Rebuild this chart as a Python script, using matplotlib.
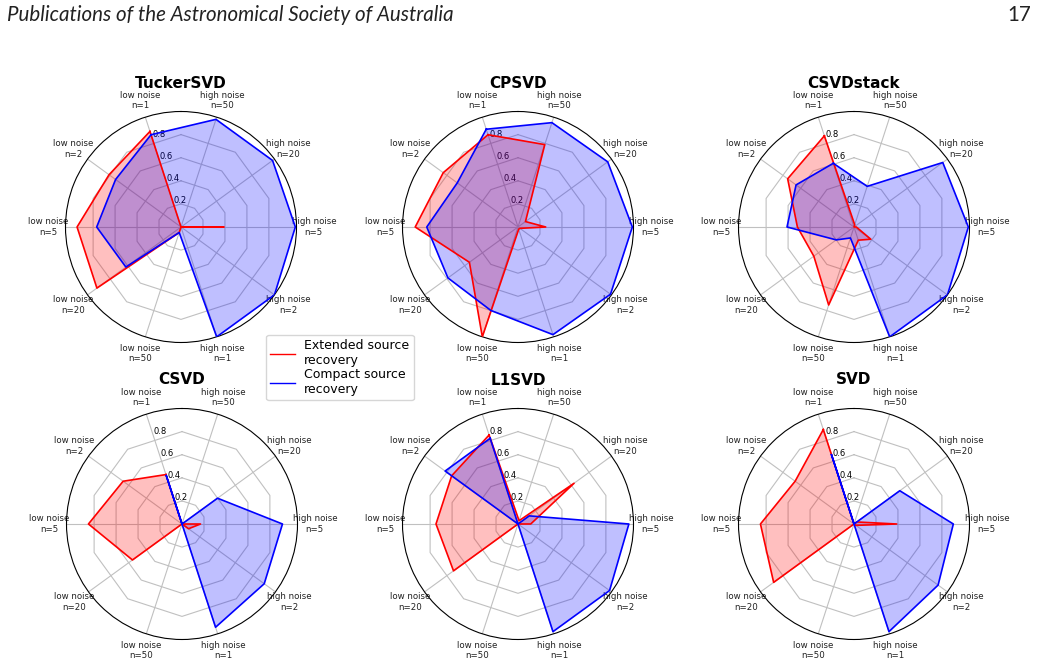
import numpy as np
import matplotlib
matplotlib.use("Agg")
from matplotlib import pyplot as plt
from matplotlib.lines import Line2D

categories = ["low noise\nn=1", "low noise\nn=2", "low noise\nn=5", "low noise\nn=20",
              "low noise\nn=50", "high noise\nn=1", "high noise\nn=2", "high noise\nn=5",
              "high noise\nn=20", "high noise\nn=50"]
methods = ["TuckerSVD", "CPSVD", "CSVDstack", "CSVD", "L1SVD", "SVD"]
rticks = [0.2, 0.4, 0.6, 0.8]

# extended / compact source recovery, same order as categories
tucker_ext = [0.87, 0.77, 0.90, 0.90, 0.05, 0.00, 0.00, 0.37, 0.00, 0.00]
tucker_cmp = [0.84, 0.70, 0.73, 0.59, 0.05, 1.00, 1.00, 0.99, 0.98, 0.98]
cp_ext = [0.84, 0.80, 0.89, 0.52, 1.00, 0.02, 0.02, 0.24, 0.08, 0.75]
cp_cmp = [0.89, 0.65, 0.79, 0.75, 0.76, 0.98, 0.99, 0.99, 0.96, 0.95]
stack_ext = [0.83, 0.71, 0.49, 0.43, 0.71, 0.12, 0.18, 0.02, 0.00, 0.02]
stack_cmp = [0.58, 0.62, 0.58, 0.19, 0.10, 1.00, 1.00, 0.99, 0.95, 0.37]
csvd_ext = [0.45, 0.63, 0.81, 0.53, 0.00, 0.00, 0.07, 0.16, 0.00, 0.00]
csvd_cmp = [0.44, 0.00, 0.00, 0.00, 0.00, 0.94, 0.88, 0.87, 0.38, 0.00]
l1_ext = [0.81, 0.71, 0.71, 0.69, 0.00, 0.00, 0.00, 0.11, 0.60, 0.03]
l1_cmp = [0.78, 0.78, 0.00, 0.00, 0.00, 0.98, 0.98, 0.96, 0.12, 0.00]
svd_ext = [0.86, 0.63, 0.81, 0.86, 0.00, 0.00, 0.02, 0.37, 0.03, 0.00]
svd_cmp = [0.63, 0.00, 0.00, 0.00, 0.00, 0.98, 0.90, 0.86, 0.49, 0.00]

extended = [tucker_ext, cp_ext, stack_ext, csvd_ext, l1_ext, svd_ext]
compact = [tucker_cmp, cp_cmp, stack_cmp, csvd_cmp, l1_cmp, svd_cmp]

W, H = 1038, 664
centers = [(181, 227), (518, 227), (854, 227), (182, 524), (518, 524), (854, 524)]
R = 115.5


def radar(fig, cx, cy, name, ext, cmp):
    ax = fig.add_axes([(cx - R) / W, (H - cy - R) / H, 2 * R / W, 2 * R / H], polar=True)
    ax.set_theta_zero_location("N")
    theta = np.deg2rad(18 + 36 * np.arange(len(categories)))
    th = np.append(theta, theta[0])

    # polygon grid rings
    ring = np.deg2rad(np.arange(0, 361, 36))
    for r in rticks:
        ax.plot(ring, [r] * len(ring), color="#c0c0c0", lw=0.8, zorder=1)

    e = np.append(ext, ext[0])
    c = np.append(cmp, cmp[0])
    ax.fill(th, e, color="red", alpha=0.25, lw=0, zorder=2)
    ax.plot(th, e, color="red", lw=1.2, zorder=3)
    ax.fill(th, c, color="blue", alpha=0.25, lw=0, zorder=2)
    ax.plot(th, c, color="blue", lw=1.2, zorder=3)

    ax.set_ylim(0, 1.0)
    ax.set_rgrids(rticks, labels=[str(r) for r in rticks], fontsize=6)
    ax.set_rlabel_position(18)
    ax.yaxis.grid(False)
    ax.set_xticks(theta)
    ax.set_xticklabels(categories, fontsize=6.2, color="#222222")
    ax.tick_params(axis="x", pad=5.5, length=0)
    ax.xaxis.grid(True, color="#c0c0c0", lw=0.8)
    ax.text(0.5, (R + 144) / (2 * R), name, transform=ax.transAxes, ha="center",
            va="center", fontsize=11, fontweight="bold")
    return ax


fig = plt.figure(figsize=(W / 100, H / 100), dpi=100)
for (cx, cy), name, ext, cmp in zip(centers, methods, extended, compact):
    radar(fig, cx, cy, name, ext, cmp)

handles = [Line2D([], [], color="red", lw=1), Line2D([], [], color="blue", lw=1)]
fig.legend(handles, ["Extended source\nrecovery", "Compact source\nrecovery"],
           loc="upper left", bbox_to_anchor=(266 / W, 1 - 335 / H), fontsize=9,
           handlelength=2.0, borderpad=0.35, labelspacing=0.05, handletextpad=0.7,
           borderaxespad=0)

fig.text(7 / W, 1 - 15 / H, "Publications of the Astronomical Society of Australia",
         family="Lato", style="italic", fontsize=14.8, ha="left", va="center", color="#222222")
fig.text(1031 / W, 1 - 15 / H, "17", family="Lato", fontsize=14.8, ha="right",
         va="center", color="#222222")

fig.savefig("out.png", dpi=100)
